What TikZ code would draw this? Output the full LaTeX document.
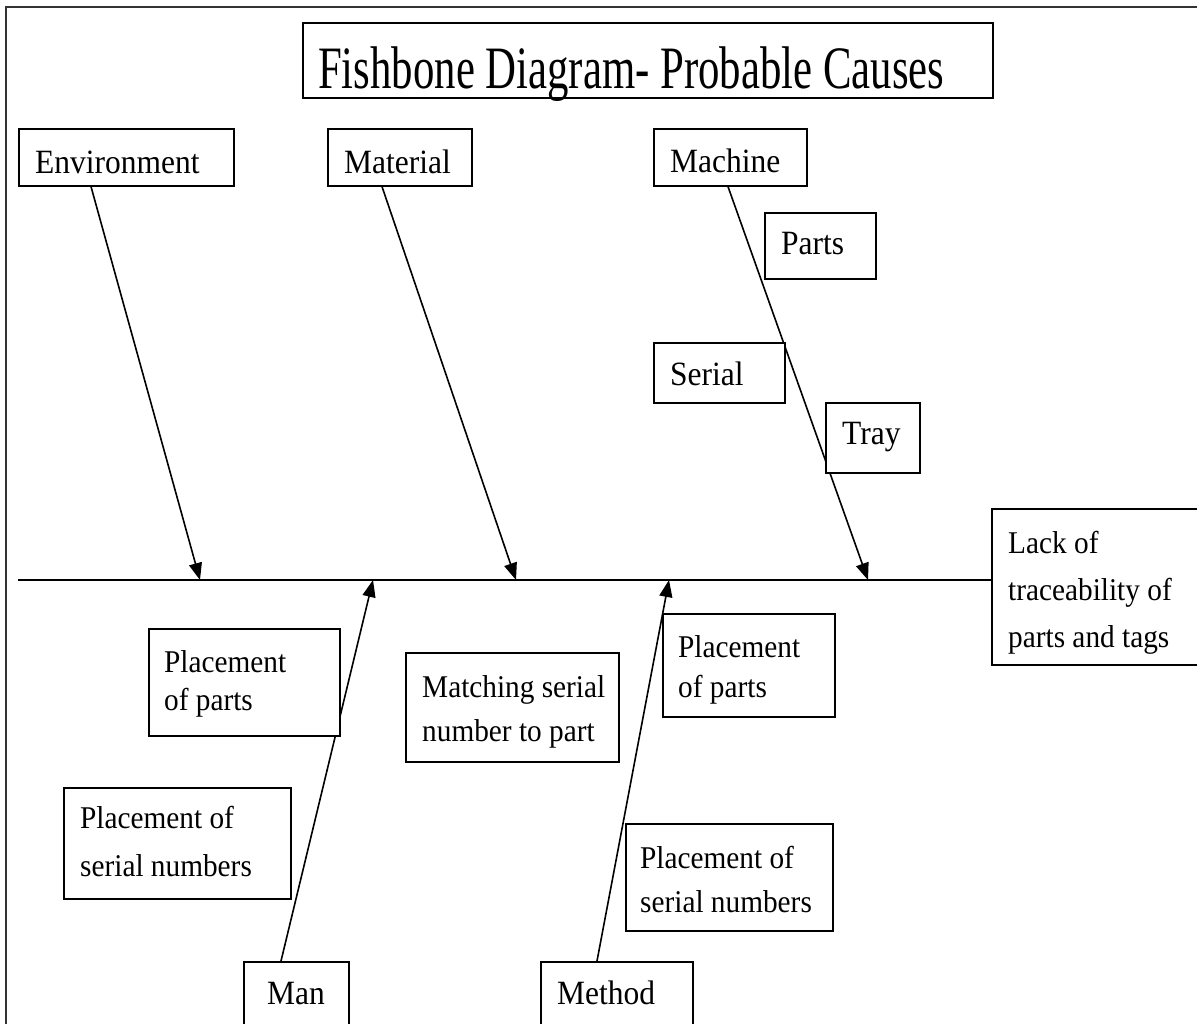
\documentclass[tikz,border=0pt]{standalone}
\usepackage{fontspec}
\usepackage{graphicx}
\setmainfont{Liberation Serif}
\usetikzlibrary{arrows.meta}

\tikzset{
  cbox/.style={draw, fill=white, line width=1.6pt, inner sep=0pt, anchor=north west},
  % anchored at the baseline of the last line; slightly tall lettering
  txt/.style={font=\fontsize{31.5}{37}\selectfont, anchor=base west, align=left,
              inner sep=0pt, yscale=1.08, transform shape},
  % smaller lettering of the multi-line cause boxes, #1 = line spacing
  mtxt/.style={txt, font=\fontsize{29.3}{#1}\selectfont},
  bone/.style={line width=1.6pt, -{Triangle[length=17pt,width=13pt]}},
  spine/.style={line width=1.8pt},
}

\begin{document}
\begin{tikzpicture}[x=1pt,y=-1pt]
  \useasboundingbox (0,0) rectangle (1197,1023);

  % outer frame (open to the right and bottom)
  \draw[line width=1.8pt, black!80] (6,1040) -- (6,7) -- (1210,7);

  % title
  \node[cbox, minimum width=690pt, minimum height=75pt] (titlebox) at (302,22) {};
  \node[anchor=base west, inner sep=0pt] (title) at (318,88)
    {\scalebox{0.995}[1.4]{\fontsize{43}{50}\selectfont Fishbone Diagram- Probable Causes}};

  % effect and spine
  \node[cbox, minimum width=206pt, minimum height=156pt] (lack) at (991,508) {};
  \coordinate (spinestart) at (18,580);
  \draw[spine] (spinestart) -- (spinestart -| lack.west);

  % category boxes
  \node[cbox, minimum width=215pt, minimum height=57pt] (env)  at (18,128) {};
  \node[cbox, minimum width=144pt, minimum height=57pt] (mat)  at (327,128) {};
  \node[cbox, minimum width=153pt, minimum height=57pt] (mach) at (653,128) {};
  \node[cbox, minimum width=105pt, minimum height=80pt] (man)  at (243,961) {};
  \node[cbox, minimum width=152pt, minimum height=80pt] (meth) at (540,961) {};

  % points where the bones meet the spine
  \coordinate (envtip)  at (200,580);
  \coordinate (mattip)  at (516,580);
  \coordinate (machtip) at (868,580);
  \coordinate (mantip)  at (373,580);
  \coordinate (methtip) at (669,580);

  % bones
  \draw[bone] (env.south west)  ++(73,0) -- (envtip);
  \draw[bone] (mat.south west)  ++(55,0) -- (mattip);
  \draw[bone] (mach.south west) ++(75,0) -- (machtip);
  \draw[bone] (man.north west)  ++(38,0) -- (mantip);
  \draw[bone] (meth.north west) ++(57,0) -- (methtip);

  % cause boxes
  \node[cbox, minimum width=111pt, minimum height=66pt]  (parts)   at (764,212) {};
  \node[cbox, minimum width=131pt, minimum height=60pt]  (serial)  at (653,342) {};
  \node[cbox, minimum width=94pt,  minimum height=70pt]  (tray)    at (825,402) {};
  \node[cbox, minimum width=191pt, minimum height=107pt] (lplace)  at (148,628) {};
  \node[cbox, minimum width=227pt, minimum height=111pt] (lserial) at (63,787) {};
  \node[cbox, minimum width=213pt, minimum height=109pt] (match)   at (405,652) {};
  \node[cbox, minimum width=172pt, minimum height=103pt] (rplace)  at (662,613) {};
  \node[cbox, minimum width=207pt, minimum height=107pt] (rserial) at (625,823) {};

  % labels
  \node[txt] (envt)  at (35,173)  {Environment};
  \node[txt] (matt)  at (344,173) {Material};
  \node[txt] (macht) at (670,172) {Machine};
  \node[txt] (mant)  at (267,1004) {Man};
  \node[txt] (metht) at (557,1004) {Method};
  \node[txt] (partst)  at (781,254) {Parts};
  \node[txt] (serialt) at (670,385) {Serial};
  \node[txt] (trayt)   at (842,444) {Tray};
  \node[mtxt=43.5] (lackt)    at (1008,647) {Lack of\\traceability of\\parts and tags};
  \node[mtxt=34.3] (lplacet)  at (164,710) {Placement\\of parts};
  \node[mtxt=44.4] (lserialt) at (80,876)  {Placement of\\serial numbers};
  \node[mtxt=40.7] (matcht)   at (422,741) {Matching serial\\number to part};
  \node[mtxt=37]   (rplacet)  at (678,697) {Placement\\of parts};
  \node[mtxt=40.7] (rserialt) at (640,912) {Placement of\\serial numbers};
\end{tikzpicture}
\end{document}
